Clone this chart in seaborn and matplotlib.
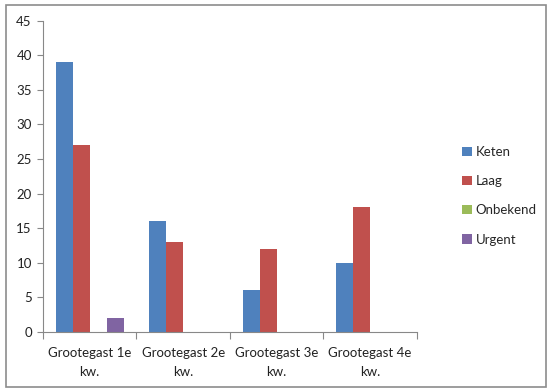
import pandas as pd
import matplotlib
matplotlib.use("Agg")
import matplotlib.pyplot as plt
from matplotlib.patches import Rectangle
import seaborn as sns

categories = ["Grootegast 1e\nkw.", "Grootegast 2e\nkw.", "Grootegast 3e\nkw.", "Grootegast 4e\nkw."]
series = ["Keten", "Laag", "Onbekend", "Urgent"]
keten = [39, 16, 6, 10]
laag = [27, 13, 12, 18]
onbekend = [0, 0, 0, 0]
urgent = [2, 0, 0, 0]
colors = ["#4F81BD", "#C0504D", "#9BBB59", "#8064A2"]

rows = []
for name, vals in zip(series, [keten, laag, onbekend, urgent]):
    for cat, v in zip(categories, vals):
        rows.append({"cat": cat, "serie": name, "waarde": v})
df = pd.DataFrame(rows)

sns.set_theme(style="white")
plt.rcParams['font.family'] = ['Lato', 'DejaVu Sans']

fig = plt.figure(figsize=(5.5, 3.9), dpi=100)
ax = fig.add_axes([0.078, 0.149, 0.680, 0.798])

sns.barplot(data=df, x="cat", y="waarde", hue="serie", hue_order=series,
            palette=colors, width=0.73, saturation=1, ax=ax, linewidth=0)

ax.set_ylim(0, 45)
ax.set_yticks(range(0, 46, 5))
ax.set_xlim(-0.5, 3.5)
ax.set_xlabel("")
ax.set_ylabel("")

# category boundary ticks like Excel
ax.set_xticks([-0.5, 0.5, 1.5, 2.5, 3.5])
ax.set_xticklabels([])
ax.set_xticks(range(4), minor=True)
ax.set_xticklabels(categories, minor=True, fontsize=9.5, color="#222222", linespacing=1.65)
ax.tick_params(axis="x", which="major", direction="out", length=5, color="#888888", width=0.8, bottom=True)
ax.tick_params(axis="x", which="minor", length=0, pad=11)
ax.tick_params(axis="y", direction="out", length=4, color="#888888", width=0.8, left=True,
               labelsize=9.5, labelcolor="#222222", pad=4)

for s in ["top", "right"]:
    ax.spines[s].set_visible(False)
for s in ["left", "bottom"]:
    ax.spines[s].set_color("#888888")
    ax.spines[s].set_linewidth(0.8)

leg = ax.legend(loc="center left", bbox_to_anchor=(1.09, 0.437), frameon=False,
                handlelength=0.7, handleheight=0.7, handletextpad=0.3,
                labelspacing=1.3, fontsize=9.5)

# outer chart border
fig.patches.append(Rectangle((6 / 550, 3 / 390), 540 / 550, 382 / 390, transform=fig.transFigure,
                             fill=False, edgecolor="#8c8c8c", linewidth=1.2))

fig.savefig("out.png", dpi=100)
